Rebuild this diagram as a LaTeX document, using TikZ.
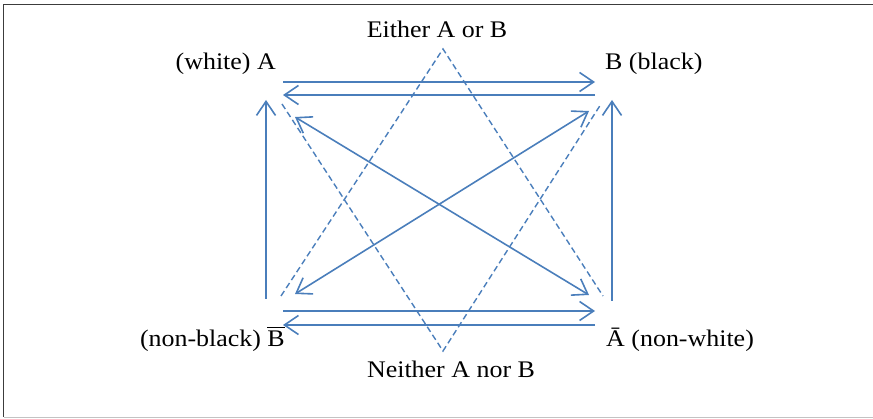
\documentclass[tikz,border=0pt]{standalone}
\usepackage{amsmath}
\usepackage{fontspec}
\setmainfont{Liberation Serif}[FakeStretch=1.09]
\usepackage{tikz}
\usetikzlibrary{arrows.meta}
\definecolor{lineBlue}{RGB}{74, 126, 187}
\definecolor{frameDark}{RGB}{60, 60, 60}
\definecolor{frameLight}{RGB}{195, 195, 195}

\tikzset{
  link/.style={draw=lineBlue, line width=1.6pt},
  guide/.style={draw=lineBlue, line width=1.4pt, dash pattern=on 6pt off 3.5pt},
  lbl/.style={font=\fontsize{23.8}{28}\selectfont, inner sep=0pt}
}

\begin{document}
\begin{tikzpicture}[x=1pt, y=-1pt, >={Straight Barb[length=14pt, width=19pt]}]
  \useasboundingbox (0,0) rectangle (873,419);
  % frame
  \draw[frameDark, line width=1.5pt] (3.5,417) -- (3.5,4.5) -- (873,4.5);
  \draw[frameLight, line width=1.5pt] (3.5,417.5) -- (873,417.5);

  % labels
  \node[lbl, anchor=base east] (lblA) at (276,70) {(white) A};
  \node[lbl, anchor=base west] (lblB) at (605,70) {B (black)};
  \node[lbl, anchor=base east] (lblNB) at (285,347) {(non-black) $\overline{\text{B}}$};
  \node[lbl, anchor=base west] (lblNA) at (606,347) {Ā (non-white)};
  \node[lbl, anchor=base] (either) at (437,38) {Either A or B};
  \node[lbl, anchor=base] (neither) at (451,378) {Neither A nor B};

  % arrow ends
  \coordinate (a1) at (283,82);   \coordinate (b1) at (595,82);
  \coordinate (a2) at (283,95);   \coordinate (b2) at (595,95);
  \coordinate (a3) at (266,100);  \coordinate (nb3) at (266,299);
  \coordinate (b3) at (612,100);  \coordinate (na3) at (612,301);
  \coordinate (a4) at (295,117);  \coordinate (na4) at (589,295);
  \coordinate (b4) at (589,111);  \coordinate (nb4) at (295,294);
  \coordinate (nb1) at (283,311); \coordinate (na1) at (595,311);
  \coordinate (nb2) at (283,325); \coordinate (na2) at (595,325);
  % triangle corners
  \coordinate (top) at (443,49);  \coordinate (bot) at (443,351);
  \coordinate (tl) at (281,296);  \coordinate (tr) at (603,296);
  \coordinate (bl) at (282,104);  \coordinate (br) at (601,104);

  \draw[link, ->] (a1) -- (b1);
  \draw[link, ->] (b2) -- (a2);
  \draw[link, ->] (nb3) -- (a3);
  \draw[link, ->] (na3) -- (b3);
  \draw[link, <->] (a4) -- (na4);
  \draw[link, <->] (nb4) -- (b4);
  \draw[link, ->] (nb1) -- (na1);
  \draw[link, ->] (na2) -- (nb2);

  \draw[guide] (tl) -- (top) -- (tr);
  \draw[guide] (bl) -- (bot) -- (br);
\end{tikzpicture}
\end{document}
